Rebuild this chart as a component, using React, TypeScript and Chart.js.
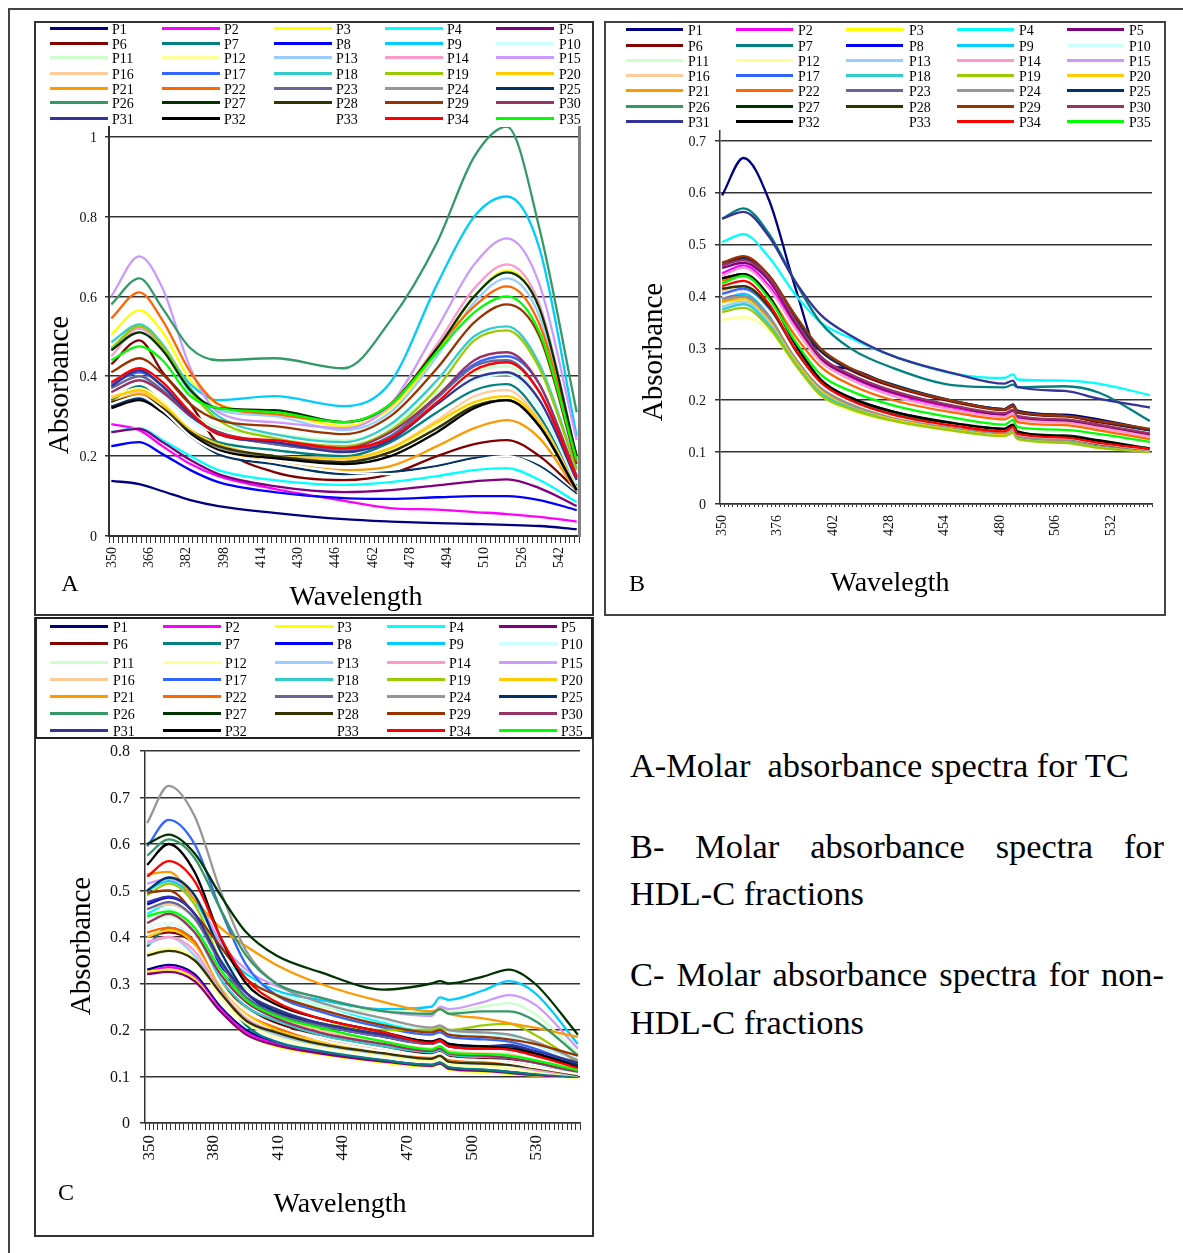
import React, { useEffect, useRef } from "react";
import { Chart, registerables } from "chart.js";

Chart.register(...registerables);

const SERIES_NAMES = Array.from({ length: 35 }, (_, i) => `P${i + 1}`);
const SERIES_COLORS = [
  "#000080", "#FF00FF", "#FFFF00", "#00FFFF", "#800080", "#800000", "#008080",
  "#0000FF", "#00CCFF", "#CCFFFF", "#CCFFCC", "#FFFF99", "#99CCFF", "#FF99CC",
  "#CC99FF", "#FFCC99", "#3366FF", "#33CCCC", "#99CC00", "#FFCC00", "#FF9900",
  "#FF6600", "#666699", "#969696", "#003366", "#339966", "#003300", "#333300",
  "#993300", "#993366", "#333399", "#000000", "#FFFFFF", "#FF0000", "#00FF00",
];
const WAVELENGTHS = Array.from({ length: 101 }, (_, i) => String(350 + i * 2));

const Y_TICKS_A = [0, 0.2, 0.4, 0.6, 0.8, 1];
const Y_TICKS_B = [0, 0.1, 0.2, 0.3, 0.4, 0.5, 0.6, 0.7];
const Y_TICKS_C = [0, 0.1, 0.2, 0.3, 0.4, 0.5, 0.6, 0.7, 0.8];

const A_WL = [350, 362, 372, 384, 396, 420, 450, 470, 490, 506, 520, 534, 550];
const A_P1 = [.138, .13, .112, .09, .075, .058, .042, .036, .032, .03, .028, .025, .017];
const A_P2 = [.28, .265, .225, .18, .15, .118, .088, .07, .066, .06, .055, .048, .036];
const A_P3 = [.505, .565, .51, .39, .33, .31, .275, .32, .46, .60, .665, .57, .19];
const A_P4 = [.26, .27, .24, .20, .165, .14, .128, .135, .15, .165, .17, .14, .085];
const A_P5 = [.26, .268, .235, .19, .155, .125, .11, .115, .127, .137, .142, .12, .075];
const A_P6 = [.43, .49, .41, .33, .23, .16, .14, .155, .20, .23, .24, .20, .115];
const A_P7 = [.34, .375, .33, .265, .235, .215, .20, .235, .31, .365, .38, .30, .125];
const A_P8 = [.225, .235, .205, .165, .135, .11, .095, .093, .097, .10, .10, .09, .065];
const A_P9 = [.47, .52, .47, .38, .34, .35, .325, .385, .63, .80, .85, .72, .25];
const A_P10 = [.37, .40, .355, .29, .255, .235, .215, .255, .335, .39, .405, .32, .13];
const A_P11 = [.385, .42, .38, .31, .27, .255, .24, .275, .36, .41, .425, .34, .14];
const A_P12 = [.35, .37, .335, .265, .225, .20, .19, .215, .28, .33, .345, .28, .115];
const A_P13 = [.47, .525, .47, .36, .315, .30, .265, .31, .45, .585, .645, .55, .19];
const A_P14 = [.45, .52, .47, .365, .32, .315, .285, .325, .48, .62, .68, .58, .20];
const A_P15 = [.60, .70, .62, .42, .31, .285, .27, .33, .52, .68, .745, .63, .24];
const A_P16 = [.35, .36, .32, .255, .22, .195, .19, .22, .29, .35, .365, .29, .12];
const A_P17 = [.38, .41, .375, .30, .26, .23, .215, .25, .35, .43, .45, .38, .15];
const A_P18 = [.485, .53, .48, .37, .30, .255, .235, .28, .39, .50, .525, .43, .17];
const A_P19 = [.47, .525, .475, .365, .29, .245, .225, .265, .37, .49, .515, .42, .165];
const A_P20 = [.345, .365, .33, .265, .23, .20, .195, .22, .285, .335, .35, .285, .115];
const A_P21 = [.335, .355, .32, .255, .215, .185, .165, .175, .225, .27, .29, .245, .11];
const A_P22 = [.545, .61, .54, .41, .33, .305, .285, .33, .47, .575, .625, .53, .20];
const A_P23 = [.37, .40, .365, .30, .26, .23, .215, .25, .345, .425, .44, .36, .145];
const A_P24 = [.325, .345, .315, .26, .22, .20, .185, .21, .27, .325, .34, .275, .11];
const A_P25 = [.325, .345, .31, .25, .205, .18, .155, .16, .175, .195, .20, .175, .105];
const A_P26 = [.58, .645, .57, .47, .44, .445, .42, .54, .735, .95, 1.025, .77, .31];
const A_P27 = [.465, .51, .465, .365, .32, .315, .285, .33, .47, .60, .66, .57, .20];
const A_P28 = [.335, .35, .32, .26, .225, .20, .185, .21, .27, .325, .34, .275, .115];
const A_P29 = [.41, .445, .405, .33, .29, .275, .255, .30, .42, .535, .58, .50, .18];
const A_P30 = [.36, .39, .36, .30, .26, .235, .22, .26, .35, .44, .46, .38, .15];
const A_P31 = [.375, .415, .375, .305, .255, .235, .21, .24, .33, .395, .41, .34, .14];
const A_P32 = [.32, .34, .31, .255, .215, .195, .18, .20, .26, .32, .34, .275, .115];
const A_P33 = [.33, .35, .315, .25, .21, .185, .16, .155, .17, .19, .20, .17, .10];
const A_P34 = [.385, .42, .385, .31, .255, .24, .22, .245, .335, .415, .435, .36, .145];
const A_P35 = [.44, .475, .44, .35, .32, .31, .285, .33, .46, .56, .60, .51, .19];
const A_VALUES = [A_P1, A_P2, A_P3, A_P4, A_P5, A_P6, A_P7, A_P8, A_P9, A_P10, A_P11, A_P12, A_P13, A_P14, A_P15, A_P16, A_P17, A_P18, A_P19, A_P20, A_P21, A_P22, A_P23, A_P24, A_P25, A_P26, A_P27, A_P28, A_P29, A_P30, A_P31, A_P32, A_P33, A_P34, A_P35];

const B_WL = [350, 360, 372, 384, 396, 410, 430, 460, 482, 486, 488, 510, 526, 550];
const B_P1 = [.595, .667, .585, .42, .28, .26, .228, .197, .183, .192, .18, .172, .163, .143];
const B_P2 = [.445, .46, .42, .345, .28, .245, .213, .184, .172, .178, .166, .16, .15, .133];
const B_P3 = [.385, .395, .355, .28, .22, .19, .167, .146, .136, .144, .13, .123, .113, .103];
const B_P4 = [.505, .52, .475, .405, .35, .32, .285, .25, .243, .25, .24, .238, .232, .21];
const B_P5 = [.455, .465, .43, .35, .28, .247, .215, .187, .172, .18, .168, .16, .15, .134];
const B_P6 = [.465, .475, .44, .36, .295, .258, .226, .195, .181, .188, .176, .169, .158, .142];
const B_P7 = [.55, .57, .52, .43, .35, .30, .262, .228, .225, .23, .225, .227, .215, .16];
const B_P8 = [.40, .41, .37, .29, .23, .197, .172, .15, .14, .147, .134, .127, .117, .105];
const B_P9 = [.395, .405, .365, .29, .228, .195, .17, .148, .138, .145, .132, .125, .116, .104];
const B_P10 = [.385, .398, .36, .285, .225, .192, .168, .146, .136, .143, .13, .123, .113, .103];
const B_P11 = [.38, .39, .35, .278, .22, .19, .166, .145, .135, .142, .128, .122, .112, .102];
const B_P12 = [.355, .36, .335, .27, .21, .18, .16, .14, .132, .138, .126, .119, .11, .101];
const B_P13 = [.38, .39, .35, .28, .22, .188, .165, .145, .135, .142, .129, .122, .113, .102];
const B_P14 = [.44, .455, .415, .34, .275, .24, .208, .18, .168, .175, .163, .157, .147, .13];
const B_P15 = [.395, .41, .37, .295, .235, .20, .175, .153, .142, .15, .136, .129, .12, .107];
const B_P16 = [.41, .42, .375, .295, .23, .197, .172, .15, .14, .147, .134, .127, .117, .105];
const B_P17 = [.405, .415, .375, .295, .232, .198, .173, .15, .14, .147, .134, .127, .117, .105];
const B_P18 = [.375, .385, .345, .275, .215, .186, .163, .143, .134, .14, .127, .12, .111, .101];
const B_P19 = [.37, .378, .34, .27, .21, .183, .16, .14, .131, .137, .125, .118, .108, .10];
const B_P20 = [.39, .395, .355, .28, .22, .19, .165, .145, .135, .142, .13, .123, .113, .103];
const B_P21 = [.39, .40, .36, .285, .225, .195, .17, .148, .138, .145, .132, .125, .115, .104];
const B_P22 = [.43, .44, .40, .325, .265, .23, .20, .175, .163, .17, .158, .152, .142, .125];
const B_P23 = [.40, .40, .36, .285, .225, .192, .168, .147, .137, .144, .131, .124, .114, .104];
const B_P24 = [.395, .40, .36, .285, .225, .192, .168, .147, .137, .144, .131, .124, .114, .104];
const B_P25 = [.46, .472, .435, .36, .295, .26, .23, .197, .183, .19, .178, .17, .16, .142];
const B_P26 = [.415, .42, .38, .30, .235, .20, .175, .153, .143, .15, .136, .129, .12, .107];
const B_P27 = [.435, .443, .40, .31, .24, .205, .178, .155, .145, .152, .138, .132, .123, .107];
const B_P28 = [.415, .42, .38, .298, .232, .198, .172, .15, .14, .147, .134, .127, .116, .105];
const B_P29 = [.465, .478, .44, .365, .30, .262, .228, .197, .182, .19, .178, .17, .16, .145];
const B_P30 = [.46, .47, .435, .355, .285, .25, .218, .188, .175, .182, .17, .163, .153, .136];
const B_P31 = [.55, .563, .515, .43, .365, .325, .285, .25, .232, .238, .226, .218, .203, .186];
const B_P32 = [.435, .443, .40, .31, .24, .205, .178, .154, .145, .153, .14, .13, .122, .105];
const B_P33 = [.40, .41, .37, .29, .23, .197, .17, .15, .14, .147, .134, .127, .117, .105];
const B_P34 = [.42, .43, .385, .30, .235, .20, .172, .15, .14, .148, .135, .128, .118, .106];
const B_P35 = [.425, .44, .395, .315, .25, .218, .19, .165, .153, .162, .148, .143, .135, .12];
const B_VALUES = [B_P1, B_P2, B_P3, B_P4, B_P5, B_P6, B_P7, B_P8, B_P9, B_P10, B_P11, B_P12, B_P13, B_P14, B_P15, B_P16, B_P17, B_P18, B_P19, B_P20, B_P21, B_P22, B_P23, B_P24, B_P25, B_P26, B_P27, B_P28, B_P29, B_P30, B_P31, B_P32, B_P33, B_P34, B_P35];

const C_WL = [350, 360, 372, 384, 396, 410, 430, 460, 482, 486, 490, 506, 518, 530, 550];
const C_P1 = [.33, .34, .32, .25, .20, .172, .153, .134, .125, .13, .119, .114, .11, .104, .10];
const C_P2 = [.325, .335, .315, .245, .195, .17, .152, .133, .124, .13, .118, .113, .108, .103, .10];
const C_P3 = [.325, .33, .31, .24, .19, .165, .148, .13, .12, .127, .115, .11, .106, .102, .098];
const C_P4 = [.45, .47, .44, .35, .32, .28, .255, .215, .195, .20, .195, .19, .19, .17, .135];
const C_P5 = [.32, .325, .305, .24, .19, .167, .15, .132, .123, .128, .117, .112, .108, .103, .099];
const C_P6 = [.40, .41, .385, .30, .25, .215, .19, .165, .15, .155, .145, .14, .138, .13, .108];
const C_P7 = [.38, .42, .39, .29, .21, .175, .155, .135, .125, .13, .12, .115, .11, .105, .10];
const C_P8 = [.47, .485, .45, .34, .27, .235, .21, .185, .17, .175, .165, .16, .16, .15, .125];
const C_P9 = [.50, .52, .48, .38, .32, .285, .265, .245, .25, .27, .265, .285, .305, .28, .17];
const C_P10 = [.44, .46, .42, .35, .315, .28, .255, .22, .20, .205, .195, .19, .185, .17, .135];
const C_P11 = [.43, .445, .41, .33, .29, .27, .25, .24, .24, .245, .24, .25, .258, .235, .15];
const C_P12 = [.365, .375, .355, .27, .215, .185, .165, .145, .133, .138, .127, .122, .118, .11, .102];
const C_P13 = [.385, .40, .36, .28, .22, .19, .168, .148, .138, .143, .132, .127, .124, .114, .103];
const C_P14 = [.39, .40, .37, .285, .225, .195, .172, .15, .14, .145, .134, .128, .125, .115, .103];
const C_P15 = [.515, .525, .49, .39, .33, .295, .27, .24, .23, .25, .245, .26, .275, .255, .16];
const C_P16 = [.46, .47, .44, .35, .27, .23, .20, .175, .16, .165, .155, .15, .148, .135, .115];
const C_P17 = [.595, .652, .60, .46, .34, .275, .24, .205, .19, .195, .185, .18, .175, .16, .125];
const C_P18 = [.42, .43, .40, .31, .25, .22, .19, .165, .152, .157, .147, .142, .14, .13, .108];
const C_P19 = [.49, .515, .47, .35, .265, .235, .215, .20, .20, .205, .20, .21, .213, .19, .13];
const C_P20 = [.40, .415, .385, .295, .235, .20, .175, .15, .14, .145, .135, .13, .128, .118, .105];
const C_P21 = [.535, .54, .48, .42, .38, .34, .30, .26, .24, .245, .235, .225, .215, .205, .185];
const C_P22 = [.41, .42, .39, .30, .24, .205, .18, .155, .143, .15, .138, .133, .13, .12, .105];
const C_P23 = [.46, .475, .44, .345, .27, .235, .21, .185, .17, .175, .165, .16, .158, .145, .125];
const C_P24 = [.645, .725, .66, .50, .37, .30, .26, .225, .205, .21, .20, .195, .19, .175, .135];
const C_P25 = [.50, .528, .49, .37, .28, .24, .215, .19, .175, .18, .17, .165, .165, .15, .125];
const C_P26 = [.575, .61, .57, .46, .36, .30, .27, .24, .235, .245, .235, .24, .24, .22, .145];
const C_P27 = [.60, .62, .58, .49, .41, .36, .325, .287, .30, .305, .30, .315, .33, .30, .19];
const C_P28 = [.36, .37, .35, .28, .22, .195, .17, .15, .138, .145, .132, .128, .125, .118, .103];
const C_P29 = [.495, .50, .45, .38, .31, .275, .245, .21, .195, .20, .19, .185, .18, .17, .145];
const C_P30 = [.43, .45, .41, .32, .26, .225, .195, .17, .155, .16, .15, .145, .14, .13, .11];
const C_P31 = [.475, .487, .45, .35, .28, .245, .215, .19, .175, .18, .17, .165, .168, .155, .13];
const C_P32 = [.555, .60, .54, .40, .30, .255, .225, .195, .175, .18, .17, .165, .16, .15, .12];
const C_P33 = [.42, .43, .40, .30, .24, .21, .18, .155, .145, .15, .14, .135, .13, .12, .105];
const C_P34 = [.53, .563, .52, .40, .31, .26, .225, .195, .172, .178, .165, .16, .158, .145, .118];
const C_P35 = [.445, .455, .42, .33, .265, .23, .205, .175, .158, .165, .152, .148, .145, .135, .113];
const C_VALUES = [C_P1, C_P2, C_P3, C_P4, C_P5, C_P6, C_P7, C_P8, C_P9, C_P10, C_P11, C_P12, C_P13, C_P14, C_P15, C_P16, C_P17, C_P18, C_P19, C_P20, C_P21, C_P22, C_P23, C_P24, C_P25, C_P26, C_P27, C_P28, C_P29, C_P30, C_P31, C_P32, C_P33, C_P34, C_P35];

const SERIF = '"Liberation Serif", serif';

const PANELS = [
  {
    key: "A", wl: A_WL, values: A_VALUES, yTicks: Y_TICKS_A, yMax: 1.024, labelEvery: 8,
    canvas: { left: 36, top: 122, width: 556, height: 478 }, plot: { left: 109, right: 579, top: 127, bottom: 536 },
    xFont: 14, yFont: 14, xTickLen: 7, xTickPad: 4, yTickLen: 4, yTickPad: 8, axisWidth: 2, rightBorder: true, xLabelShift: 1, yLabelShift: 1.5,
  },
  {
    key: "B", wl: B_WL, values: B_VALUES, yTicks: Y_TICKS_B, yMax: 0.719, labelEvery: 13,
    canvas: { left: 606, top: 122, width: 556, height: 478 }, plot: { left: 720, right: 1152, top: 131, bottom: 504 },
    xFont: 14, yFont: 14, xTickLen: 3, xTickPad: 8, yTickLen: 5, yTickPad: 9, axisWidth: 1.5, rightBorder: false, xLabelShift: 0, yLabelShift: 1,
  },
  {
    key: "C", wl: C_WL, values: C_VALUES, yTicks: Y_TICKS_C, yMax: 0.8, labelEvery: 15,
    canvas: { left: 36, top: 742, width: 556, height: 450 }, plot: { left: 145, right: 580, top: 751, bottom: 1123 },
    xFont: 17, yFont: 16, xTickLen: 7, xTickPad: 5, yTickLen: 5, yTickPad: 10, axisWidth: 1.5, rightBorder: false, xLabelShift: 2, yLabelShift: 1,
  },
];

const LEGENDS = [
  { swatchX: [50, 162, 274, 385, 496], textX: [112, 224, 336, 447, 559], rows: [28, 43.7, 57.7, 73, 88.7, 102.7, 118], width: 58 },
  { swatchX: [626, 736, 846, 957, 1067], textX: [688, 798, 909, 1019, 1129], rows: [29.5, 45, 60.5, 75, 90.5, 106, 121], width: 57 },
  { swatchX: [50, 163, 275, 387, 499], textX: [113, 225, 337, 449, 561], rows: [626, 643.5, 662, 679, 696, 713, 730], width: 58 },
];

const AXIS_TITLES = [
  { text: "Absorbance", x: 58, y: 385, rotate: true, size: 29 },
  { text: "Wavelength", x: 356, y: 596, rotate: false, size: 28 },
  { text: "Absorbance", x: 652, y: 352, rotate: true, size: 29 },
  { text: "Wavelegth", x: 890, y: 582, rotate: false, size: 28 },
  { text: "Absorbance", x: 80, y: 946, rotate: true, size: 29 },
  { text: "Wavelength", x: 340, y: 1203, rotate: false, size: 28 },
];
const PANEL_LETTERS = [
  { text: "A", x: 70, y: 583 },
  { text: "B", x: 637, y: 583 },
  { text: "C", x: 66, y: 1192 },
];
const CAPTIONS = [
  { text: "A-Molar\u00A0\u00A0absorbance spectra for TC", y: 765, justify: false },
  { text: "B- Molar absorbance spectra for", y: 846, justify: true },
  { text: "HDL-C fractions", y: 893, justify: false },
  { text: "C- Molar absorbance spectra for non-", y: 974, justify: true },
  { text: "HDL-C fractions", y: 1022, justify: false },
];
const FRAMES = [
  { left: 34, top: 21, width: 560, height: 595, border: 2, color: "#333" },
  { left: 604, top: 21, width: 562, height: 595, border: 2, color: "#444" },
  { left: 34, top: 617, width: 560, height: 620, border: 2, color: "#333" },
  { left: 35, top: 617, width: 558, height: 122, border: 2, color: "#222" },
];

function Panel({ cfg }: { cfg: (typeof PANELS)[number] }) {
  const ref = useRef<HTMLCanvasElement | null>(null);
  useEffect(() => {
    if (!ref.current) return;
    const { canvas, plot } = cfg;
    const gridColor = "#333333";
    const scales: any = {
      x: {
        type: "category",
        labels: WAVELENGTHS,
        offset: true,
        border: { color: gridColor, width: cfg.axisWidth },
        grid: { offset: true, drawOnChartArea: false, drawTicks: true, tickLength: cfg.xTickLen, color: gridColor, lineWidth: 1 },
        ticks: {
          autoSkip: false,
          maxRotation: 90,
          minRotation: 90,
          padding: cfg.xTickPad,
          labelOffset: cfg.xLabelShift,
          color: "#111",
          font: { family: SERIF, size: cfg.xFont },
          callback: (_v: any, i: number) => (i % cfg.labelEvery === 0 ? WAVELENGTHS[i] : ""),
        },
        afterFit: (s: any) => {
          s.height = canvas.top + canvas.height - plot.bottom;
          s.paddingLeft = 0; s.paddingRight = 0; s.paddingTop = 0; s.paddingBottom = 0;
        },
      },
      y: {
        min: 0,
        max: cfg.yMax,
        border: { color: gridColor, width: cfg.axisWidth },
        grid: { color: gridColor, lineWidth: 1.5, tickLength: cfg.yTickLen },
        afterBuildTicks: (s: any) => { s.ticks = cfg.yTicks.map((value) => ({ value })); },
        ticks: {
          padding: cfg.yTickPad,
          labelOffset: cfg.yLabelShift,
          color: "#111",
          font: { family: SERIF, size: cfg.yFont },
          callback: (v: any) => String(+(+v).toFixed(1)),
        },
        afterFit: (s: any) => {
          s.width = plot.left - canvas.left;
          s.paddingLeft = 0; s.paddingRight = 0; s.paddingTop = 0; s.paddingBottom = 0;
        },
      },
    };
    if (cfg.rightBorder) {
      scales.yRight = {
        position: "right",
        min: 0,
        max: cfg.yMax,
        border: { color: "#808080", width: 3 },
        grid: { display: false },
        ticks: { display: false },
        afterFit: (s: any) => {
          s.width = 0;
          s.paddingLeft = 0; s.paddingRight = 0; s.paddingTop = 0; s.paddingBottom = 0;
        },
      };
    }
    const chart = new Chart(ref.current, {
      type: "line",
      data: {
        labels: WAVELENGTHS,
        datasets: cfg.values.map((vals, i) => ({
          label: SERIES_NAMES[i],
          data: vals.map((y, j) => ({ x: String(cfg.wl[j]), y })),
          borderColor: SERIES_COLORS[i],
          backgroundColor: SERIES_COLORS[i],
          borderWidth: 2.3,
          pointRadius: 0,
          fill: false,
          cubicInterpolationMode: "monotone",
          order: 35 - i,
        })),
      } as any,
      options: {
        animation: false,
        responsive: false,
        maintainAspectRatio: false,
        events: [],
        layout: { padding: { left: 0, top: plot.top - canvas.top, right: canvas.left + canvas.width - plot.right, bottom: 0 } },
        plugins: { legend: { display: false }, title: { display: false }, tooltip: { enabled: false } },
        scales,
      },
    });
    return () => chart.destroy();
  }, [cfg]);
  return (
    <canvas
      ref={ref}
      width={cfg.canvas.width}
      height={cfg.canvas.height}
      style={{ position: "absolute", left: cfg.canvas.left, top: cfg.canvas.top, width: cfg.canvas.width, height: cfg.canvas.height }}
    />
  );
}

const centered = (x: number, y: number): React.CSSProperties => ({
  position: "absolute", left: x, top: y, transform: "translate(-50%,-50%)", whiteSpace: "nowrap",
});

export default function App() {
  return (
    <div style={{ position: "absolute", left: 0, top: 0, width: 1183, height: 1253, overflow: "hidden", background: "#fff", fontFamily: SERIF, color: "#000", filter: "blur(0.45px)" }}>
      <div style={{ position: "absolute", left: 8, top: 8, width: 1175, height: 1245, borderLeft: "2px solid #444", borderTop: "2px solid #444", boxSizing: "border-box" }} />
      {PANELS.map((p) => <Panel key={p.key} cfg={p} />)}
      {FRAMES.map((f, i) => (
        <div key={i} style={{ position: "absolute", left: f.left, top: f.top, width: f.width, height: f.height, border: `${f.border}px solid ${f.color}`, boxSizing: "border-box", pointerEvents: "none" }} />
      ))}
      {LEGENDS.map((l, li) =>
        SERIES_NAMES.map((name, i) => {
          const col = i % 5;
          const y = l.rows[Math.floor(i / 5)];
          return (
            <React.Fragment key={`${li}-${name}`}>
              <div style={{ position: "absolute", left: l.swatchX[col], top: y - 1.5, width: l.width, height: 3, background: SERIES_COLORS[i] }} />
              <div style={{ position: "absolute", left: l.textX[col], top: y - 6.5, fontSize: 14, lineHeight: "16px", whiteSpace: "nowrap" }}>{name}</div>
            </React.Fragment>
          );
        })
      )}
      {AXIS_TITLES.map((t, i) => (
        <div key={i} style={{ ...centered(t.x, t.y), fontSize: t.size, transform: `translate(-50%,-50%)${t.rotate ? " rotate(-90deg)" : ""}` }}>{t.text}</div>
      ))}
      {PANEL_LETTERS.map((t) => (
        <div key={t.text} style={{ ...centered(t.x, t.y), fontSize: 24 }}>{t.text}</div>
      ))}
      {CAPTIONS.map((c, i) => (
        <div key={i} style={{ position: "absolute", left: 630, top: c.y - 22, width: 534, fontSize: 34.4, lineHeight: "44px", whiteSpace: c.justify ? "normal" : "nowrap", textAlign: c.justify ? "justify" : "left", textAlignLast: c.justify ? "justify" : "left" }}>{c.text}</div>
      ))}
    </div>
  );
}
